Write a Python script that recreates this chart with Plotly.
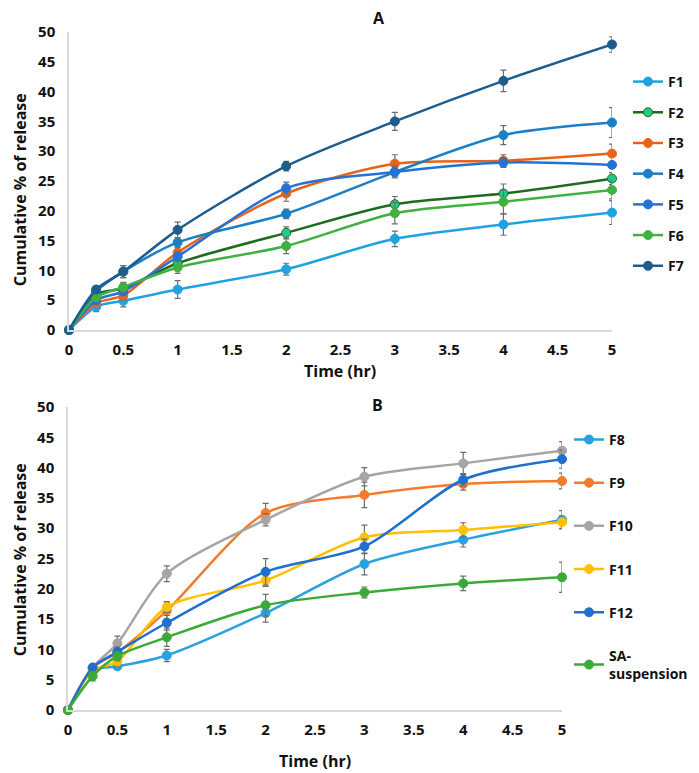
import plotly.graph_objects as go

# sampling times (hr), shared by both panels
time_hr = [0, 0.25, 0.5, 1, 2, 3, 4, 5]

# Panel A - cumulative % released
f1 = [0, 3.9, 4.9, 6.8, 10.2, 15.3, 17.7, 19.7]
f2 = [0, 6.0, 7.0, 11.2, 16.3, 21.1, 22.9, 25.4]
f3 = [0, 4.5, 5.8, 13.0, 22.9, 27.9, 28.4, 29.6]
f4 = [0, 6.5, 9.8, 14.7, 19.5, 26.5, 32.7, 34.8]
f5 = [0, 5.0, 6.5, 12.3, 23.8, 26.5, 28.1, 27.7]
f6 = [0, 5.5, 7.2, 10.5, 14.1, 19.6, 21.5, 23.5]
f7 = [0, 6.8, 9.8, 16.8, 27.5, 35.0, 41.8, 47.9]

f1_err = [0, 0.8, 1.0, 1.5, 1.0, 1.3, 1.8, 2.0]
f2_err = [0, 0.6, 0.8, 1.0, 1.0, 1.3, 1.6, 1.0]
f3_err = [0, 0.5, 0.8, 0.8, 1.3, 1.5, 1.0, 1.6]
f4_err = [0, 0.6, 1.0, 0.8, 0.8, 0.8, 1.6, 2.5]
f5_err = [0, 0.5, 0.7, 0.8, 1.0, 1.0, 0.8, 0.5]
f6_err = [0, 0.6, 0.8, 1.0, 1.3, 1.8, 2.0, 1.5]
f7_err = [0, 0.5, 1.0, 1.3, 0.8, 1.5, 1.8, 1.3]

# Panel B - cumulative % released
f8 = [0, 6.5, 7.2, 9.0, 16.0, 24.1, 28.1, 31.4]
f9 = [0, 7.0, 9.5, 16.4, 32.5, 35.5, 37.3, 37.8]
f10 = [0, 7.0, 11.0, 22.5, 31.4, 38.5, 40.7, 42.8]
f11 = [0, 6.5, 8.0, 17.0, 21.4, 28.5, 29.7, 31.0]
f12 = [0, 7.0, 9.6, 14.4, 22.8, 27.0, 38.0, 41.4]
sa_susp = [0, 5.6, 8.9, 12.0, 17.3, 19.4, 20.9, 21.9]

f8_err = [0, 0.6, 0.5, 1.0, 1.5, 1.8, 1.2, 1.5]
f9_err = [0, 0.5, 1.0, 1.4, 1.6, 2.1, 1.0, 1.3]
f10_err = [0, 0.5, 1.2, 1.3, 1.0, 1.5, 1.8, 1.5]
f11_err = [0, 0.5, 0.8, 0.9, 1.0, 2.0, 1.2, 1.0]
f12_err = [0, 0.5, 0.8, 1.2, 2.2, 1.2, 1.0, 1.5]
sa_err = [0, 0.8, 0.8, 1.5, 1.8, 0.9, 1.2, 2.5]

FONT = "Open Sans"

panel_a = [
    ("F1", f1, f1_err, "#1FA3E0", "#1FA3E0"),
    ("F2", f2, f2_err, "#1E6B1E", "#22C98A"),
    ("F3", f3, f3_err, "#E8631A", "#E8631A"),
    ("F4", f4, f4_err, "#1A7FC4", "#1A7FC4"),
    ("F5", f5, f5_err, "#2372D6", "#2372D6"),
    ("F6", f6, f6_err, "#40B040", "#40B040"),
    ("F7", f7, f7_err, "#1B5D8C", "#1B5D8C"),
]
panel_b = [
    ("F8", f8, f8_err, "#2AA2DF", "#2AA2DF"),
    ("F9", f9, f9_err, "#F57B2A", "#F57B2A"),
    ("F10", f10, f10_err, "#A5A5A5", "#A5A5A5"),
    ("F11", f11, f11_err, "#FFC000", "#FFC000"),
    ("F12", f12, f12_err, "#1E6FD0", "#1E6FD0"),
    ("SA-<br>suspension", sa_susp, sa_err, "#3AAA35", "#3AAA35"),
]

fig = go.Figure()

def add_series(series, xa, ya, legend):
    for name, vals, err, line_col, mark_col in series:
        fig.add_trace(go.Scatter(
            x=time_hr, y=vals, name=name, mode="lines+markers",
            xaxis=xa, yaxis=ya, legend=legend, legendgroup=name,
            line=dict(color=line_col, width=2.5, shape="spline", smoothing=0.8),
            marker=dict(color=mark_col, size=9, line=dict(color=line_col, width=1)),
            error_y=dict(type="data", array=err, visible=True,
                         color="#6E6E6E", thickness=1.2, width=3),
            cliponaxis=False,
        ))

add_series(panel_a, "x", "y", "legend")
add_series(panel_b, "x2", "y2", "legend2")

axis_common = dict(
    showgrid=False, zeroline=False, showline=True, linecolor="#D9D9D9",
    linewidth=1.5, ticks="", automargin=False,
    tickfont=dict(family=FONT, size=15, color="#111111", weight="bold"),
)
x_common = dict(range=[0, 5], dtick=0.5, ticklabelstandoff=5, **axis_common)
y_common = dict(range=[0, 50], dtick=5, ticklabelstandoff=9, **axis_common)
legend_font = dict(family=FONT, size=14, color="#111111", weight="bold")

fig.update_layout(
    width=699, height=773,
    margin=dict(l=0, r=0, t=0, b=0, autoexpand=False),
    paper_bgcolor="white", plot_bgcolor="white",
    font=dict(family=FONT, color="#111111"),
    xaxis=dict(domain=[0.0873, 0.8641], anchor="y", **x_common),
    yaxis=dict(domain=[0.5834, 0.9690], anchor="x", **y_common),
    xaxis2=dict(domain=[0.0858, 0.7926], anchor="y2", **x_common),
    yaxis2=dict(domain=[0.0918, 0.4838], anchor="x2", **y_common),
    legend=dict(x=0.887, y=0.925, xanchor="left", yanchor="top", font=legend_font,
                tracegroupgap=9.5, itemwidth=30, bgcolor="rgba(0,0,0,0)"),
    legend2=dict(x=0.8026, y=0.462, xanchor="left", yanchor="top", font=legend_font,
                 tracegroupgap=22, itemwidth=30, bgcolor="rgba(0,0,0,0)"),
    showlegend=True,
)

notes = [
    (0.5308, 0.9870, "A", 0),
    (0.5293, 0.4864, "B", 0),
    (0.4750, 0.5300, "Time (hr)", 0),
    (0.4392, 0.0260, "Time (hr)", 0),
    (0.0175, 0.7646, "Cumulative % of release", -90),
    (0.0175, 0.2859, "Cumulative % of release", -90),
]
for x, y, text, angle in notes:
    fig.add_annotation(x=x, y=y, xref="paper", yref="paper", text=text,
                       showarrow=False, textangle=angle,
                       xanchor="center", yanchor="middle",
                       font=dict(family=FONT, size=16, color="#111111", weight="bold"))

fig.write_html("out.html")
